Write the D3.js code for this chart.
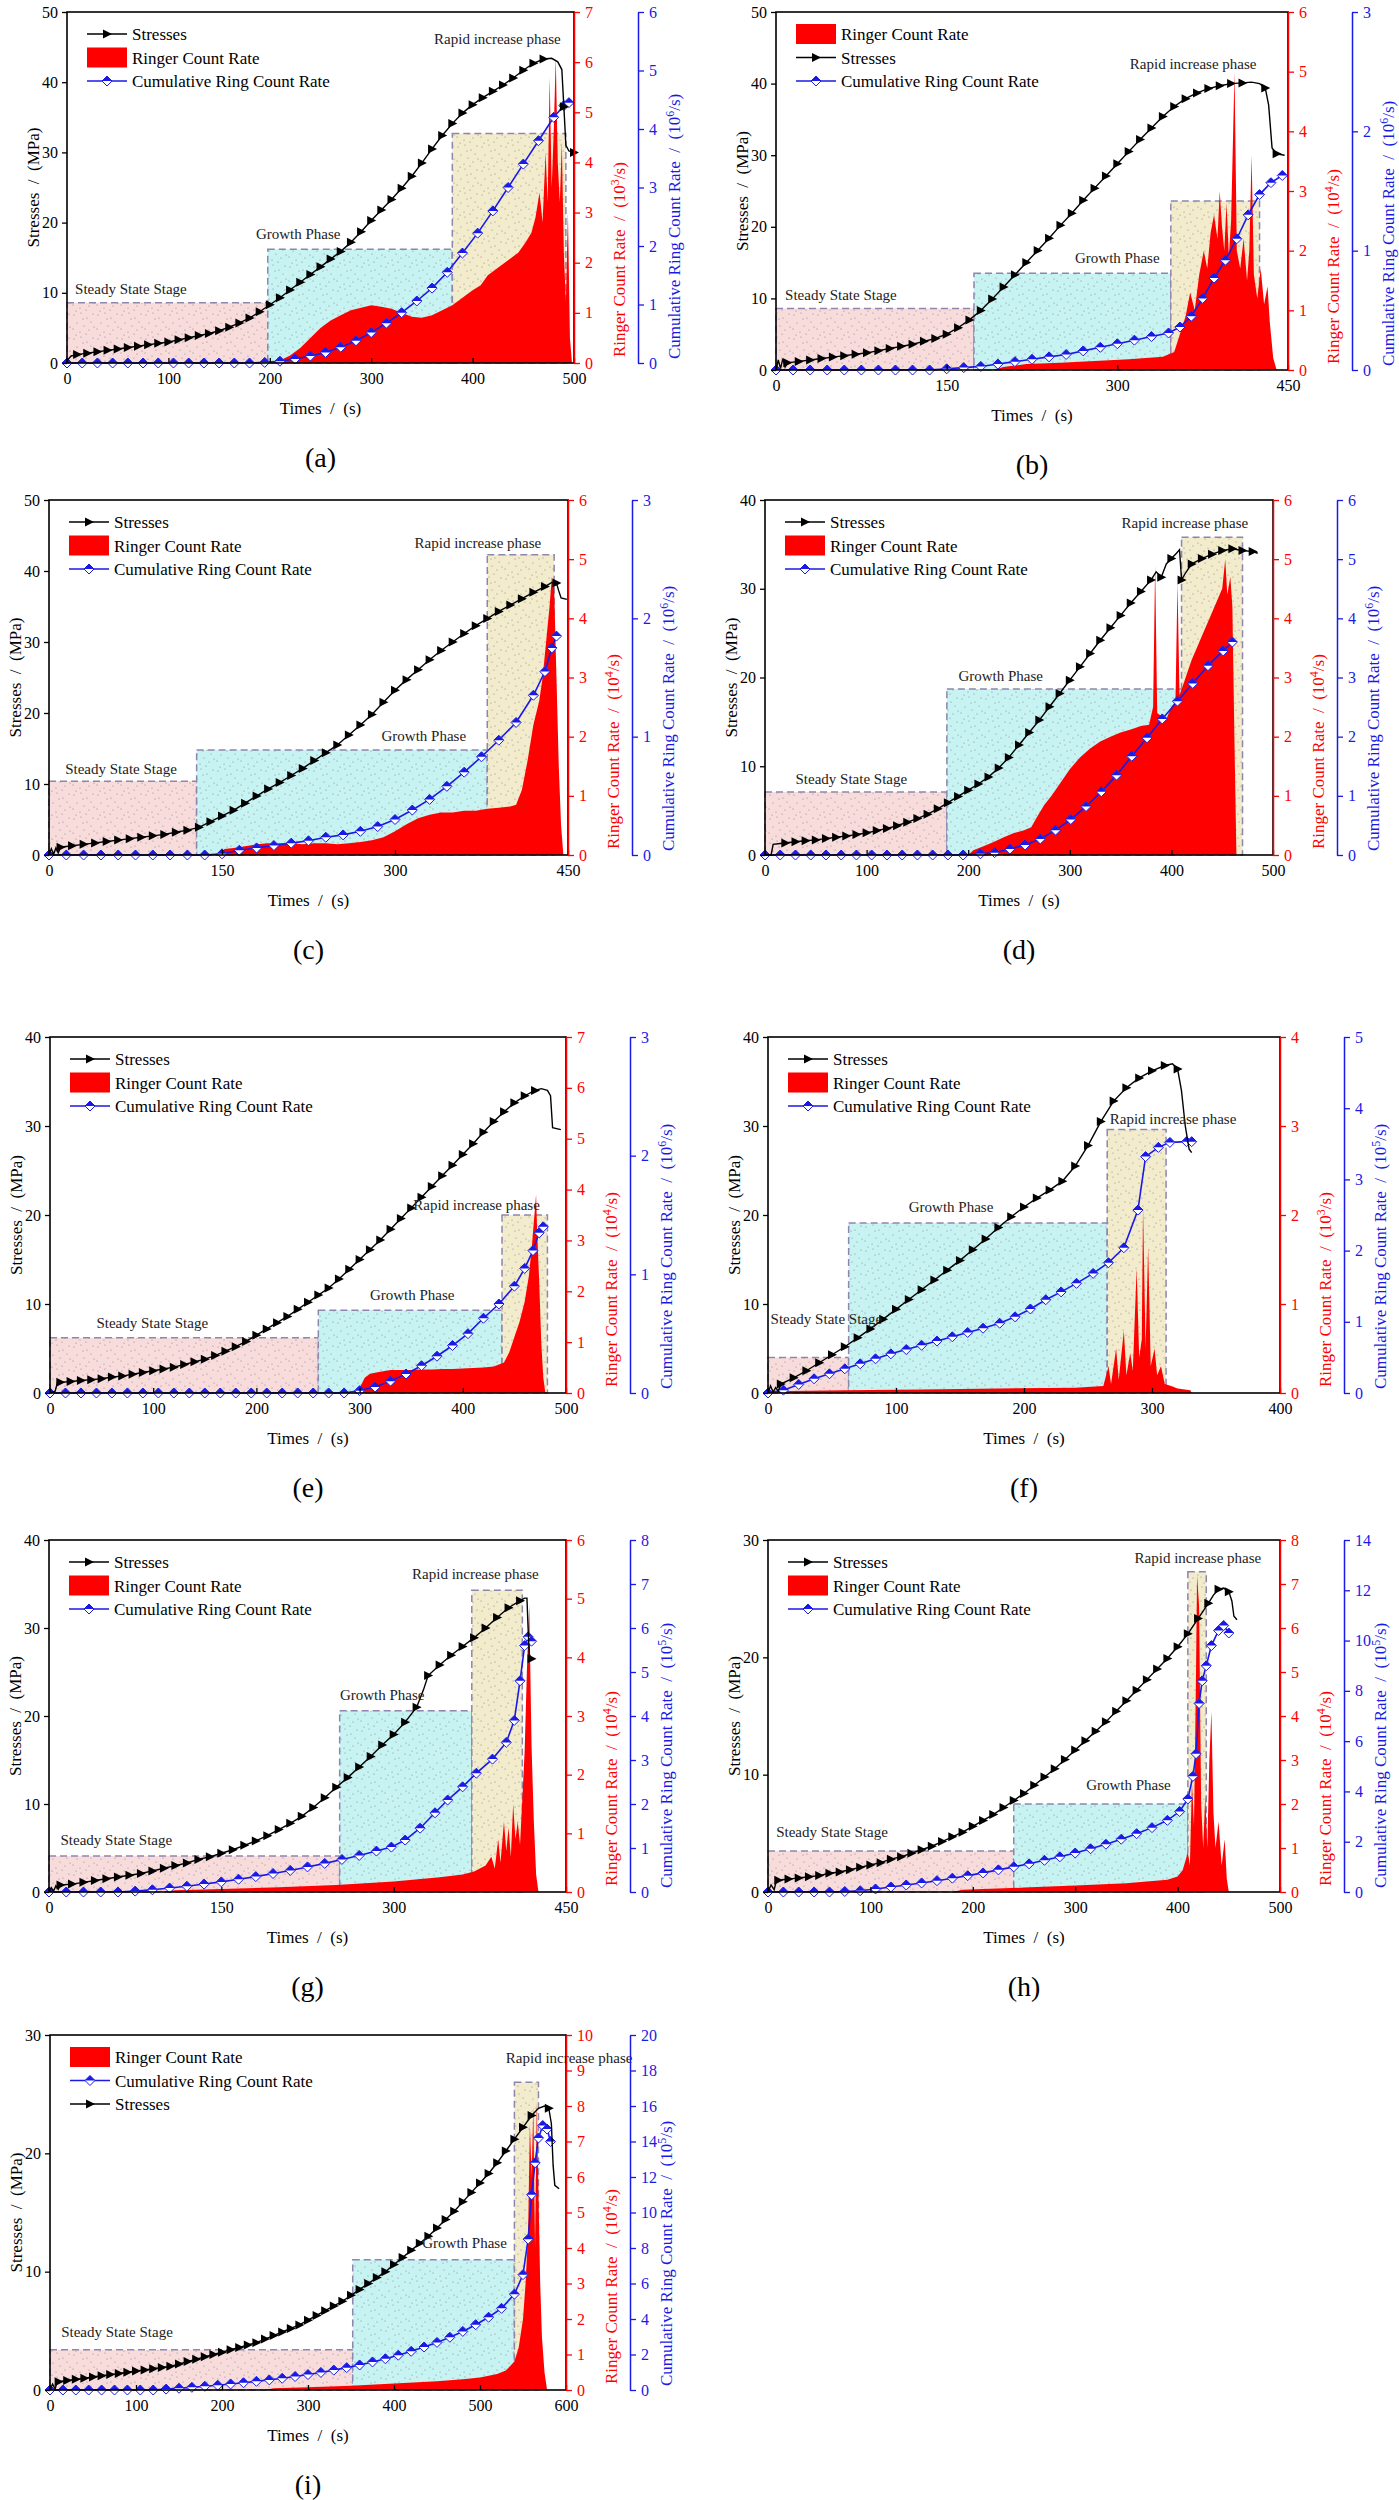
<!DOCTYPE html>
<html>
<head>
<meta charset="utf-8">
<script src="https://cdn.jsdelivr.net/npm/d3@7"></script>
<style>
body{margin:0;background:#fff}
svg{display:block}
text{font-family:"Liberation Serif","Times New Roman",serif}
</style>
</head>
<body>
<svg id="fig" width="1399" height="2500"></svg>
<script>
// ---- (a) ----
const stressA = [[0,0.3],[4,1.0],[10,1.2],[20,1.4],[30,1.6],[40,1.8],[50,2.0],[60,2.2],[70,2.4],[80,2.6],[90,2.8],[100,3.0],[110,3.3],[120,3.6],[130,3.9],[140,4.2],[150,4.6],[160,5.1],[170,5.7],[180,6.4],[190,7.3],[200,8.3],[210,9.3],[220,10.4],[230,11.5],[240,12.6],[250,13.7],[260,14.8],[270,15.9],[280,17.2],[290,18.7],[300,20.3],[310,21.8],[320,23.3],[330,24.9],[340,26.6],[350,28.5],[360,30.5],[370,32.4],[380,34.1],[390,35.6],[400,36.8],[410,37.8],[420,38.7],[430,39.6],[440,40.6],[450,41.7],[460,42.7],[470,43.3],[478,43.4],[484,42.9],[488,41.8],[490,36.5],[492,31],[495,30.2],[500,30.0]];
const rateA = [[0,0],[205,0],[210,0.05],[220,0.15],[230,0.3],[240,0.5],[250,0.7],[260,0.85],[270,0.95],[280,1.05],[290,1.1],[300,1.15],[310,1.12],[320,1.08],[330,1.0],[340,0.92],[350,0.9],[360,0.95],[370,1.05],[380,1.15],[390,1.3],[400,1.45],[408,1.55],[415,1.75],[425,1.9],[435,2.05],[445,2.2],[452,2.4],[458,2.6],[462,2.9],[466,3.4],[469,2.8],[472,4.2],[474,3.2],[476,5.7],[478,3.5],[480,4.6],[482,6.1],[484,4.0],[486,3.2],[488,4.4],[490,2.2],[492,1.2],[494,3.0],[496,0.5],[498,0]];
const cumA = [[0,0],[15,0],[30,0],[45,0],[60,0],[75,0],[90,0],[105,0],[120,0],[135,0],[150,0],[165,0],[180,0],[195,0.01],[210,0.03],[225,0.07],[240,0.12],[255,0.18],[270,0.27],[285,0.38],[300,0.52],[315,0.68],[330,0.86],[345,1.06],[360,1.28],[375,1.55],[390,1.88],[405,2.22],[420,2.6],[435,3.0],[450,3.4],[465,3.8],[480,4.2],[490,4.4],[495,4.45]];
const stagesA = [[0,198,8.6],[198,380,16.2],[380,492,32.7]];

// ---- (b) ----
const stressB = [[0,0],[2,1.4],[4,0.2],[6,1.6],[8,0.4],[10,1.0],[20,1.2],[30,1.4],[40,1.6],[50,1.8],[60,2.0],[70,2.2],[80,2.4],[90,2.7],[100,3.0],[110,3.3],[120,3.6],[130,4.0],[140,4.4],[150,5.0],[160,5.9],[170,7.0],[180,8.3],[190,9.9],[200,11.6],[210,13.3],[220,15.0],[230,16.7],[240,18.4],[250,20.2],[260,21.9],[270,23.7],[280,25.4],[290,27.1],[300,28.8],[310,30.5],[320,32.2],[330,33.8],[340,35.4],[350,36.8],[360,37.9],[370,38.7],[380,39.3],[390,39.7],[400,40.0],[410,40.1],[418,40.2],[425,40.0],[430,39.4],[433,37],[436,31],[440,30.2],[447,30.0]];
const rateB = [[0,0],[190,0],[200,0.05],[220,0.1],[250,0.12],[280,0.15],[310,0.18],[340,0.22],[350,0.3],[355,0.6],[360,0.9],[364,1.3],[368,1.0],[372,1.6],[376,2.0],[379,1.7],[382,2.3],[385,2.6],[388,2.2],[390,3.0],[392,2.4],[394,2.0],[396,2.8],[398,1.9],[400,2.5],[403,5.0],[405,2.0],[408,1.7],[411,2.2],[414,1.5],[416,2.0],[418,3.6],[420,1.6],[423,1.2],[426,1.7],[429,1.1],[432,1.4],[434,0.8],[437,0.2],[440,0]];
const cumB = [[0,0],[15,0],[30,0],[45,0],[60,0],[75,0],[90,0],[105,0],[120,0],[135,0],[150,0.01],[165,0.02],[180,0.03],[195,0.05],[210,0.07],[225,0.09],[240,0.11],[255,0.13],[270,0.16],[285,0.19],[300,0.22],[315,0.25],[330,0.28],[345,0.31],[355,0.36],[365,0.45],[375,0.6],[385,0.77],[395,0.92],[405,1.1],[415,1.3],[425,1.47],[435,1.57],[445,1.63]];
const stagesB = [[0,174,8.6],[174,347,13.5],[347,425,23.6]];

// ---- (c) ----
const stressC = [[0,0],[2,0.9],[4,0.1],[6,1.0],[8,0.3],[10,1.1],[20,1.3],[30,1.5],[40,1.7],[50,1.9],[60,2.1],[70,2.3],[80,2.5],[90,2.7],[100,2.9],[110,3.2],[120,3.5],[130,3.9],[140,4.7],[150,5.5],[160,6.3],[170,7.3],[180,8.3],[190,9.3],[200,10.2],[210,11.2],[220,12.2],[230,13.3],[240,14.4],[250,15.5],[260,16.9],[270,18.3],[280,19.8],[290,21.5],[300,23.2],[310,24.7],[320,26.1],[330,27.5],[340,28.8],[350,30.0],[360,31.2],[370,32.3],[380,33.3],[390,34.3],[400,35.2],[410,36.1],[420,37.0],[430,37.8],[436,38.4],[440,38.3],[442,37.2],[444,36.2],[449,36.0]];
const rateC = [[0,0],[150,0],[152,0.1],[160,0.12],[170,0.15],[180,0.18],[190,0.2],[200,0.2],[210,0.2],[220,0.18],[230,0.2],[240,0.2],[250,0.18],[260,0.2],[270,0.22],[280,0.25],[290,0.3],[300,0.4],[310,0.52],[320,0.62],[330,0.68],[340,0.72],[350,0.72],[360,0.75],[370,0.75],[380,0.78],[390,0.8],[400,0.82],[405,0.85],[410,1.1],[415,1.6],[420,2.2],[425,2.6],[428,3.0],[431,3.6],[434,4.2],[436,4.7],[438,4.5],[440,3.0],[442,1.5],[444,0.5],[446,0]];
const cumC = [[0,0],[15,0],[30,0],[45,0],[60,0],[75,0],[90,0],[105,0],[120,0],[135,0],[150,0.01],[165,0.04],[180,0.06],[195,0.08],[210,0.1],[225,0.12],[240,0.15],[255,0.17],[270,0.2],[285,0.24],[300,0.3],[315,0.38],[330,0.47],[345,0.58],[360,0.7],[375,0.83],[390,0.97],[405,1.12],[420,1.35],[430,1.55],[436,1.75],[440,1.85]];
const stagesC = [[0,128,10.4],[128,380,14.8],[380,438,42.3]];

// ---- (d) ----
const stressD = [[0,0],[6,0],[8,1.2],[15,1.3],[20,1.35],[30,1.5],[40,1.6],[50,1.7],[60,1.85],[70,2.0],[80,2.15],[90,2.3],[100,2.5],[110,2.75],[120,3.0],[130,3.3],[140,3.7],[150,4.1],[160,4.6],[170,5.2],[180,5.9],[190,6.6],[200,7.3],[210,8.0],[220,8.8],[230,9.8],[240,11.0],[250,12.4],[260,13.8],[270,15.2],[280,16.7],[290,18.2],[300,19.7],[310,21.2],[320,22.7],[330,24.2],[340,25.6],[350,27.0],[360,28.4],[370,29.7],[380,31.0],[385,31.9],[390,31.3],[395,32.8],[400,33.4],[405,34.0],[408,34.4],[410,31.0],[414,31.8],[420,32.8],[430,33.4],[440,33.9],[450,34.3],[460,34.5],[470,34.3],[480,34.2],[485,34.0]];
const rateD = [[0,0],[200,0],[205,0.08],[215,0.15],[225,0.22],[235,0.3],[245,0.37],[255,0.42],[262,0.47],[268,0.65],[275,0.85],[282,1.0],[290,1.2],[300,1.45],[310,1.65],[320,1.8],[330,1.92],[340,2.0],[350,2.07],[360,2.12],[370,2.18],[378,2.2],[382,2.5],[384,4.9],[386,2.4],[390,2.35],[395,2.3],[400,2.5],[404,2.6],[406,4.6],[408,2.7],[412,2.9],[416,3.1],[420,3.3],[425,3.5],[430,3.7],[435,3.9],[440,4.1],[445,4.3],[450,4.5],[453,5.0],[455,4.4],[458,4.7],[460,4.2],[462,2.0],[464,0]];
const cumD = [[0,0],[15,0],[30,0],[45,0],[60,0],[75,0],[90,0],[105,0],[120,0],[135,0],[150,0],[165,0],[180,0],[195,0],[212,0.02],[226,0.04],[241,0.1],[256,0.17],[271,0.27],[286,0.42],[301,0.6],[316,0.82],[331,1.07],[346,1.35],[361,1.67],[376,1.98],[391,2.3],[406,2.6],[421,2.9],[436,3.2],[451,3.45],[460,3.6]];
const stagesD = [[0,179,7.1],[179,410,18.7],[410,470,35.8]];

// ---- (e) ----
const stressE = [[0,0],[5,0.2],[7,1.1],[10,1.2],[20,1.3],[30,1.4],[40,1.5],[50,1.6],[60,1.8],[70,1.9],[80,2.1],[90,2.3],[100,2.5],[110,2.7],[120,2.9],[130,3.2],[140,3.5],[150,3.8],[160,4.2],[170,4.7],[180,5.2],[190,5.8],[200,6.5],[210,7.2],[220,7.9],[230,8.6],[240,9.4],[250,10.2],[260,11.0],[270,11.8],[280,12.8],[290,13.9],[300,15.0],[310,16.1],[320,17.2],[330,18.4],[340,19.6],[350,20.8],[360,22.0],[370,23.2],[380,24.4],[390,25.6],[400,26.8],[410,28.0],[420,29.3],[430,30.5],[440,31.6],[450,32.6],[460,33.4],[470,34.0],[476,34.2],[482,34.0],[485,33.4],[487,29.8],[495,29.6]];
const rateE = [[0,0],[295,0],[300,0.1],[305,0.3],[310,0.38],[320,0.42],[330,0.45],[340,0.45],[350,0.45],[360,0.46],[370,0.46],[380,0.47],[390,0.47],[400,0.48],[410,0.49],[420,0.5],[430,0.52],[440,0.6],[445,0.8],[450,1.1],[455,1.4],[460,1.8],[464,2.3],[467,2.9],[469,3.4],[471,3.9],[472,3.2],[474,2.2],[476,1.0],[478,0.3],[480,0]];
const cumE = [[0,0],[15,0],[30,0],[45,0],[60,0],[75,0],[90,0],[105,0],[120,0],[135,0],[150,0],[165,0],[180,0],[195,0],[210,0],[225,0],[240,0],[255,0],[270,0],[285,0],[300,0.02],[315,0.05],[330,0.1],[345,0.16],[360,0.23],[375,0.31],[390,0.4],[405,0.5],[420,0.63],[435,0.75],[450,0.9],[460,1.05],[468,1.2],[474,1.35],[478,1.4]];
const stagesE = [[0,260,6.2],[260,438,9.3],[438,482,20]];

// ---- (f) ----
const stressF = [[0,0],[2,0.8],[4,0.1],[6,0.6],[8,0.2],[10,1.0],[20,1.7],[30,2.5],[40,3.4],[50,4.3],[60,5.2],[70,6.2],[80,7.2],[90,8.3],[100,9.4],[110,10.5],[120,11.6],[130,12.7],[140,13.8],[150,14.9],[160,16.1],[170,17.3],[180,18.6],[190,19.8],[200,20.9],[210,21.9],[220,22.8],[230,23.8],[240,25.5],[250,27.8],[260,30.5],[270,32.8],[280,34.3],[290,35.4],[300,36.2],[310,36.8],[316,37.0],[320,36.4],[323,34],[326,30],[329,27.4],[331,27.0]];
const rateF = [[0,0],[5,0.02],[60,0.03],[120,0.04],[180,0.05],[240,0.06],[262,0.08],[266,0.3],[268,0.1],[272,0.5],[274,0.15],[278,0.7],[280,0.2],[283,0.45],[285,0.25],[288,1.4],[290,0.4],[292,0.6],[293,2.09],[295,0.5],[297,1.64],[299,0.3],[302,0.5],[304,0.2],[307,0.3],[310,0.1],[315,0.08],[320,0.05],[330,0.03],[331,0]];
const cumF = [[0,0],[12,0.04],[24,0.12],[36,0.2],[48,0.27],[60,0.34],[72,0.41],[84,0.48],[96,0.55],[108,0.61],[120,0.67],[132,0.73],[144,0.79],[156,0.85],[168,0.91],[181,0.98],[193,1.07],[205,1.18],[217,1.31],[229,1.42],[241,1.54],[254,1.68],[266,1.83],[278,2.04],[289,2.57],[295,3.32],[305,3.45],[314,3.52],[327,3.53],[331,3.53]];
const stagesF = [[0,63,4.0],[63,265,19.1],[265,311,29.6]];

// ---- (g) ----
const stressG = [[0,0],[2,0.5],[4,0.1],[6,0.7],[8,0.3],[10,0.8],[20,0.9],[30,1.1],[40,1.3],[50,1.5],[60,1.7],[70,1.9],[80,2.1],[90,2.4],[100,2.7],[110,3.0],[120,3.3],[130,3.7],[140,4.0],[150,4.4],[160,4.8],[170,5.3],[180,5.8],[190,6.4],[200,7.1],[210,7.8],[220,8.6],[230,9.6],[240,10.7],[250,11.9],[260,13.0],[270,14.2],[280,15.4],[290,16.7],[300,17.9],[310,19.3],[320,21.0],[326,23.0],[330,24.6],[340,25.8],[350,26.9],[360,27.9],[370,28.9],[380,30.0],[390,31.2],[400,32.3],[410,33.1],[414,33.4],[416,33.4],[417,30],[418,27],[420,26.5]];
const rateG = [[0,0],[100,0],[110,0.03],[150,0.05],[200,0.08],[250,0.12],[300,0.18],[340,0.25],[360,0.3],[370,0.35],[380,0.45],[385,0.6],[388,0.4],[391,0.9],[393,0.5],[396,1.2],[398,0.7],[400,1.1],[402,0.6],[404,1.5],[406,0.9],[408,1.2],[410,0.8],[412,1.6],[414,2.4],[416,3.8],[418,4.9],[420,2.5],[422,1.2],[424,0.3],[426,0]];
const cumG = [[0,0],[15,0],[30,0],[45,0],[60,0],[75,0.02],[90,0.05],[105,0.09],[120,0.13],[135,0.18],[150,0.23],[165,0.29],[180,0.35],[195,0.42],[210,0.49],[225,0.57],[240,0.65],[255,0.74],[270,0.83],[285,0.93],[298,1.02],[310,1.18],[323,1.45],[336,1.8],[347,2.09],[360,2.39],[372,2.7],[386,3.02],[398,3.4],[405,3.9],[410,4.8],[414,5.6],[417,5.8],[420,5.7]];
const stagesG = [[0,253,4.1],[253,368,20.6],[368,412,34.3]];

// ---- (h) ----
const stressH = [[0,0],[3,0.6],[6,0.2],[8,0.9],[10,1.0],[20,1.1],[30,1.2],[40,1.3],[50,1.4],[60,1.6],[70,1.7],[80,1.9],[90,2.1],[100,2.3],[110,2.5],[120,2.8],[130,3.0],[140,3.3],[150,3.6],[160,3.9],[170,4.3],[180,4.7],[190,5.1],[200,5.6],[210,6.1],[220,6.6],[230,7.2],[240,7.8],[250,8.4],[260,9.1],[270,9.8],[280,10.5],[290,11.3],[300,12.1],[310,12.9],[320,13.7],[330,14.5],[340,15.4],[350,16.3],[360,17.2],[370,18.1],[380,19.0],[390,19.9],[400,20.9],[410,22.0],[420,23.3],[430,24.6],[435,25.3],[440,25.8],[445,25.9],[450,25.6],[453,24.8],[455,23.5],[458,23.2]];
const rateH = [[0,0],[180,0],[190,0.05],[250,0.1],[300,0.15],[350,0.2],[390,0.28],[400,0.35],[405,0.5],[410,0.9],[412,0.6],[414,2.5],[416,1.5],[418,5.0],[419,7.2],[421,6.5],[423,2.0],[425,1.0],[427,2.2],[429,1.0],[431,3.0],[433,4.1],[435,1.8],[437,1.0],[440,1.6],[443,0.6],[446,1.2],[448,0.3],[450,0]];
const cumH = [[0,0],[15,0],[30,0],[45,0],[60,0],[75,0.02],[90,0.05],[105,0.12],[120,0.2],[135,0.28],[150,0.36],[165,0.45],[180,0.55],[195,0.65],[210,0.76],[225,0.88],[240,1.0],[255,1.12],[270,1.26],[285,1.4],[300,1.55],[315,1.72],[330,1.9],[345,2.1],[360,2.32],[375,2.56],[390,2.85],[402,3.2],[410,3.7],[415,4.6],[418,5.5],[421,7.5],[424,8.4],[428,9.0],[433,9.8],[440,10.4],[445,10.6],[450,10.3]];
const stagesH = [[0,240,3.5],[240,410,7.5],[410,428,27.3]];

// ---- (i) ----
const stressI = [[0,0],[3,0.5],[6,0.1],[8,0.6],[10,0.7],[20,0.8],[30,0.9],[40,1.0],[50,1.1],[60,1.2],[70,1.3],[80,1.4],[90,1.5],[100,1.6],[110,1.7],[120,1.8],[130,1.9],[140,2.0],[150,2.2],[160,2.4],[170,2.6],[180,2.8],[190,3.0],[200,3.2],[210,3.4],[220,3.6],[230,3.8],[240,4.0],[250,4.3],[260,4.6],[270,4.9],[280,5.2],[290,5.5],[300,5.9],[310,6.3],[320,6.7],[330,7.1],[340,7.5],[350,8.0],[360,8.5],[370,9.0],[380,9.5],[390,10.0],[400,10.6],[410,11.2],[420,11.8],[430,12.4],[440,13.0],[450,13.7],[460,14.4],[470,15.1],[480,15.9],[490,16.7],[500,17.5],[510,18.3],[520,19.2],[530,20.2],[540,21.2],[550,22.2],[560,23.2],[568,23.8],[575,24.0],[580,23.8],[583,22.5],[585,19],[587,17.3],[592,17.0]];
const rateI = [[0,0],[250,0],[260,0.05],[300,0.08],[350,0.12],[400,0.18],[450,0.25],[480,0.3],[500,0.35],[520,0.45],[530,0.55],[540,0.8],[545,1.2],[550,2.0],[553,3.0],[556,4.5],[558,7.5],[560,6.0],[562,8.0],[564,4.0],[566,8.1],[568,5.5],[570,3.0],[572,1.5],[575,0.5],[578,0]];
const cumI = [[0,0],[15,0],[30,0],[45,0],[60,0],[75,0],[90,0],[105,0],[120,0],[135,0.05],[150,0.1],[165,0.15],[180,0.21],[195,0.27],[210,0.34],[225,0.41],[240,0.49],[255,0.57],[270,0.66],[285,0.76],[300,0.87],[315,0.99],[330,1.12],[345,1.26],[360,1.41],[375,1.58],[390,1.76],[405,1.96],[420,2.18],[435,2.42],[450,2.68],[465,2.97],[480,3.3],[495,3.68],[510,4.1],[525,4.6],[540,5.4],[550,6.5],[556,8.5],[560,11.0],[564,12.8],[568,14.2],[573,14.9],[578,14.7],[582,14.0]];
const stagesI = [[0,352,3.4],[352,540,11],[540,568,26]];

const stageNames = ['Steady State Stage','Growth Phase','Rapid increase phase'];
const legendNames = {s:'Stresses', r:'Ringer Count Rate', c:'Cumulative Ring Count Rate'};

const panels = [
  {key:'a', box:[67,12,574,363], xMax:500, xStep:100, yMax:50, rMax:7, rStep:1, bMax:6, bStep:1, rExp:'3', bExp:'6',
   stress:stressA, rate:rateA, cum:cumA, stages:stagesA, order:['s','r','c'], tags:[[8,9.8],[228,17.6],[362,45.5]]},
  {key:'b', box:[776,12,1288,370], xMax:450, xStep:150, yMax:50, rMax:6, rStep:1, bMax:3, bStep:1, rExp:'4', bExp:'6',
   stress:stressB, rate:rateB, cum:cumB, stages:stagesB, order:['r','s','c'], tags:[[8,9.8],[300,15],[311,42]]},
  {key:'c', box:[49,500,568,855], xMax:450, xStep:150, yMax:50, rMax:6, rStep:1, bMax:3, bStep:1, rExp:'4', bExp:'6',
   stress:stressC, rate:rateC, cum:cumC, stages:stagesC, order:['s','r','c'], tags:[[14,11.4],[325,16],[317,43.2]]},
  {key:'d', box:[765,500,1273,855], xMax:500, xStep:100, yMax:40, rMax:6, rStep:1, bMax:6, bStep:1, rExp:'4', bExp:'6',
   stress:stressD, rate:rateD, cum:cumD, stages:stagesD, order:['s','r','c'], tags:[[30,8.0],[232,19.6],[351,36.8]]},
  {key:'e', box:[50,1037,566,1393], xMax:500, xStep:100, yMax:40, rMax:7, rStep:1, bMax:3, bStep:1, rExp:'4', bExp:'6',
   stress:stressE, rate:rateE, cum:cumE, stages:stagesE, order:['s','r','c'], tags:[[45,7.3],[351,10.4],[352,20.6]]},
  {key:'f', box:[768,1037,1280,1393], xMax:400, xStep:100, yMax:40, rMax:4, rStep:1, bMax:5, bStep:1, rExp:'3', bExp:'5',
   stress:stressF, rate:rateF, cum:cumF, stages:stagesF, order:['s','r','c'], tags:[[2,7.8],[143,20.3],[267,30.2]]},
  {key:'g', box:[49,1540,566,1892], xMax:450, xStep:150, yMax:40, rMax:6, rStep:1, bMax:8, bStep:1, rExp:'4', bExp:'5',
   stress:stressG, rate:rateG, cum:cumG, stages:stagesG, order:['s','r','c'], tags:[[10,5.3],[290,21.8],[316,35.6]]},
  {key:'h', box:[768,1540,1280,1892], xMax:500, xStep:100, yMax:30, rMax:8, rStep:1, bMax:14, bStep:2, rExp:'4', bExp:'5',
   stress:stressH, rate:rateH, cum:cumH, stages:stagesH, order:['s','r','c'], tags:[[8,4.7],[352,8.7],[358,28]]},
  {key:'i', box:[50,2035,566,2390], xMax:600, xStep:100, yMax:30, rMax:10, rStep:1, bMax:20, bStep:2, rExp:'4', bExp:'5',
   stress:stressI, rate:rateI, cum:cumI, stages:stagesI, order:['r','c','s'], tags:[[13,4.5],[482,12],[530,27.6]]}
];

const RED = '#ff0000', BLUE = '#1a1ae6', FONT = '"Liberation Serif","Times New Roman",serif';
const SEP = '\u2002/\u2002';
const tri = 'M-4,-4.5L5,0L-4,4.5Z';
const dia = 'M0,-5L5,0L0,5L-5,0Z';
const diaTop = 'M-5,0L0,-5L5,0Z';

const fig = d3.select('#fig').attr('font-family',FONT);
const defs = fig.append('defs');
const specks = [[2,3],[9,1],[15,6],[5,11],[12,14],[19,10],[1,17],[8,20],[17,18],[21,2],[14,22],[4,23],[22,15],[11,7]];
[['pink','#f8dcdc'],['cyan','#c8f3f3'],['sand','#f2eccc']].forEach(([id,c])=>{
  const p = defs.append('pattern').attr('id','tex-'+id).attr('width',24).attr('height',24).attr('patternUnits','userSpaceOnUse');
  p.append('rect').attr('width',24).attr('height',24).attr('fill',c);
  p.selectAll('circle').data(specks).join('circle')
    .attr('cx',d=>d[0]).attr('cy',d=>d[1]).attr('r',0.6).attr('fill','#888');
});
const fills = ['pink','cyan','sand'];

function supText(sel, base, exp){
  sel.append('tspan').text(base + SEP + '(10');
  sel.append('tspan').attr('font-size','70%').attr('dy',-6).text(exp);
  sel.append('tspan').attr('dy',6).text('/s)');
}

function styleAxis(g, color){
  g.attr('font-family',FONT).attr('font-size',16);
  g.selectAll('text').attr('fill',color);
  g.selectAll('line').attr('stroke',color).attr('stroke-width',1.3);
  g.select('.domain').attr('stroke',color).attr('stroke-width',1.5);
}

function drawPanel(p){
  const [x0,y0,x1,y1] = p.box;
  const x = d3.scaleLinear().domain([0,p.xMax]).range([x0,x1]);
  const y = d3.scaleLinear().domain([0,p.yMax]).range([y1,y0]);
  const r = d3.scaleLinear().domain([0,p.rMax]).range([y1,y0]);
  const b = d3.scaleLinear().domain([0,p.bMax]).range([y1,y0]);
  const g = fig.append('g').attr('class','panel-'+p.key);
  const intFmt = d3.format('d');

  // stage boxes
  g.selectAll('rect.stage').data(p.stages).join('rect').attr('class','stage')
    .attr('x',d=>x(d[0])).attr('width',d=>x(d[1])-x(d[0]))
    .attr('y',d=>y(d[2])).attr('height',d=>y1-y(d[2]))
    .attr('fill',(d,i)=>'url(#tex-'+fills[i]+')')
    .attr('stroke','#8e86ad').attr('stroke-width',1.5).attr('stroke-dasharray','7,4');

  // ringer count rate
  g.append('path').datum(p.rate).attr('fill',RED)
    .attr('d',d3.area().x(d=>x(d[0])).y0(y1).y1(d=>r(d[1])));

  // cumulative
  g.append('path').datum(p.cum).attr('fill','none').attr('stroke',BLUE).attr('stroke-width',1.6)
    .attr('d',d3.line().x(d=>x(d[0])).y(d=>b(d[1])));
  const dm = g.selectAll('g.dm').data(p.cum).join('g').attr('class','dm')
    .attr('transform',d=>`translate(${x(d[0])},${b(d[1])})`);
  dm.append('path').attr('d',dia).attr('fill','#fff').attr('stroke',BLUE).attr('stroke-width',1);
  dm.append('path').attr('d',diaTop).attr('fill',BLUE);

  // stresses
  g.append('path').datum(p.stress).attr('fill','none').attr('stroke','#000').attr('stroke-width',1.4)
    .attr('d',d3.line().x(d=>x(d[0])).y(d=>y(d[1])));
  g.selectAll('path.tri').data(p.stress.filter(d=>d[0]>=10 && d[0]%10===0)).join('path').attr('class','tri')
    .attr('d',tri).attr('fill','#000')
    .attr('transform',d=>`translate(${x(d[0])},${y(d[1])})`);

  // stage labels
  p.tags.forEach((t,i)=>{
    g.append('text').attr('x',x(t[0])).attr('y',y(t[1]))
      .attr('text-anchor', i===1 ? 'middle' : 'start')
      .attr('font-size',15).attr('fill','#222').text(stageNames[i]);
  });

  // frame
  g.append('rect').attr('x',x0).attr('y',y0).attr('width',x1-x0).attr('height',y1-y0)
    .attr('fill','none').attr('stroke','#000').attr('stroke-width',1.6);

  // axes
  const ax = g.append('g').attr('transform',`translate(0,${y1})`)
    .call(d3.axisBottom(x).tickValues(d3.range(0,p.xMax+1,p.xStep)).tickFormat(intFmt)
      .tickSizeInner(-5).tickSizeOuter(0).tickPadding(10));
  styleAxis(ax,'#000'); ax.select('.domain').remove();
  const ay = g.append('g').attr('transform',`translate(${x0},0)`)
    .call(d3.axisLeft(y).tickValues(d3.range(0,p.yMax+1,10)).tickFormat(intFmt).tickSize(5).tickSizeOuter(0).tickPadding(4));
  styleAxis(ay,'#000'); ay.select('.domain').remove();
  const ar = g.append('g').attr('transform',`translate(${x1},0)`)
    .call(d3.axisRight(r).tickValues(d3.range(0,p.rMax+1,p.rStep)).tickFormat(intFmt).tickSize(6).tickSizeOuter(0).tickPadding(5));
  styleAxis(ar,RED);
  const ab = g.append('g').attr('transform',`translate(${x1+64},0)`)
    .call(d3.axisRight(b).tickValues(d3.range(0,p.bMax+1,p.bStep)).tickFormat(intFmt).tickSize(6).tickSizeOuter(0).tickPadding(5));
  styleAxis(ab,BLUE);

  // titles
  const mid = (x0+x1)/2;
  g.append('text').attr('x',mid).attr('y',y1+51).attr('text-anchor','middle').attr('font-size',17)
    .text('Times' + SEP + '(s)');
  g.append('text').attr('x',mid).attr('y',y1+104).attr('text-anchor','middle').attr('font-size',28)
    .text('(' + p.key + ')');
  g.append('text').attr('transform',`translate(${x0-28},${(y0+y1)/2}) rotate(-90)`)
    .attr('text-anchor','middle').attr('font-size',17).text('Stresses' + SEP + '(MPa)');
  const rt = g.append('text').attr('transform',`translate(${x1+51},${y1-6}) rotate(-90)`)
    .attr('text-anchor','start').attr('font-size',17).attr('fill',RED);
  supText(rt,'Ringer Count Rate',p.rExp);
  const bt = g.append('text').attr('transform',`translate(${x1+106},${y1-4}) rotate(-90)`)
    .attr('text-anchor','start').attr('font-size',17).attr('fill',BLUE);
  supText(bt,'Cumulative Ring Count Rate',p.bExp);

  // legend
  const lx = x0+20;
  p.order.forEach((k,i)=>{
    const ly = y0+22+i*23.5;
    const lg = g.append('g').attr('transform',`translate(${lx},${ly})`);
    if(k==='s'){
      lg.append('line').attr('x1',0).attr('x2',40).attr('stroke','#000').attr('stroke-width',1.4);
      lg.append('path').attr('d',tri).attr('transform','translate(20,0)').attr('fill','#000');
    } else if(k==='r'){
      lg.append('rect').attr('x',0).attr('y',-10).attr('width',40).attr('height',20).attr('fill',RED);
    } else {
      lg.append('line').attr('x1',0).attr('x2',40).attr('stroke',BLUE).attr('stroke-width',1.6);
      lg.append('path').attr('d',dia).attr('transform','translate(20,0)').attr('fill','#fff').attr('stroke',BLUE);
      lg.append('path').attr('d',diaTop).attr('transform','translate(20,0)').attr('fill',BLUE);
    }
    lg.append('text').attr('x',45).attr('y',6).attr('font-size',17).text(legendNames[k]);
  });
}

panels.forEach(drawPanel);
</script>
</body>
</html>
